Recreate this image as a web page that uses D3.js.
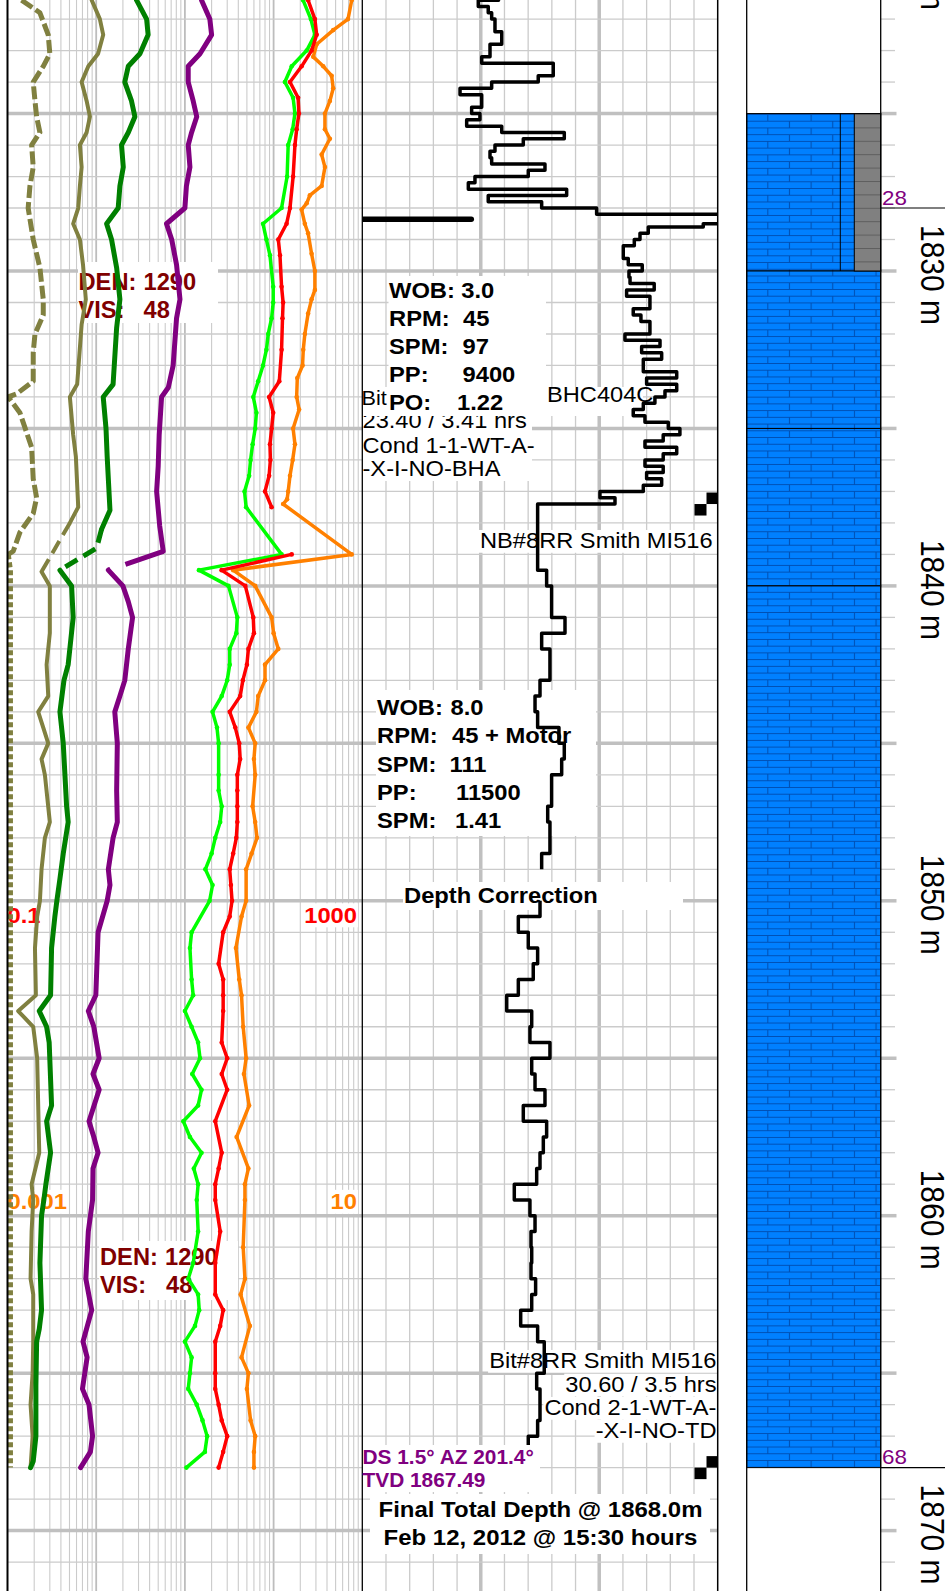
<!DOCTYPE html>
<html>
<head>
<meta charset="utf-8">
<title>Mud log 1821–1872 m</title>
<script src="https://cdn.jsdelivr.net/npm/d3@7"></script>
<style>
  html, body { margin: 0; padding: 0; background: #fff; }
  svg { display: block; }
</style>
</head>
<body>
<svg id="log" width="945" height="1591"></svg>
<script>
// ---------------- data ----------------
// depth labels on the depth track (m)
const depthLabels = [1820, 1830, 1840, 1850, 1860, 1870];

// gas curves: [depth (m), reading]
const oliveDashUpper = [[1821.4,0.144],[1821.8,0.232],[1822.5,0.288],[1823.1,0.30],[1823.5,0.253],[1824,0.195],[1824.6,0.204],[1825.1,0.213],[1825.6,0.232],[1826,0.187],[1826.7,0.195],[1827.3,0.179],[1828,0.171],[1829,0.195],[1829.9,0.232],[1830.9,0.253],[1831.4,0.253],[1832,0.204],[1832.6,0.195],[1833.5,0.195],[1833.9,0.127],[1834,0.102],[1834.5,0.138],[1835.6,0.187],[1836.6,0.195],[1837.2,0.213],[1837.7,0.195],[1838.3,0.138],[1838.9,0.116],[1839,0.102]];
const oliveDashLower = [[1839,0.102],[1839.5,0.108],[1868,0.108]];

const oliveUpper = [[1821.4,0.89],[1822,1.1],[1822.5,1.2],[1823.1,1.05],[1823.5,0.815],[1824,0.685],[1824.6,0.78],[1825.1,0.85],[1825.6,0.78],[1826,0.655],[1826.7,0.685],[1827.3,0.655],[1828,0.627],[1828.5,0.55],[1829,0.655],[1829.8,0.71],[1830.9,0.764],[1831.7,0.685],[1833.6,0.61],[1834,0.505],[1835.2,0.55],[1835.9,0.59],[1837.5,0.627],[1838,0.505]];
const oliveBridge = [[1838,0.505],[1839.55,0.242]];
const oliveLower = [[1839.55,0.242],[1840,0.30],[1841.5,0.30],[1842.5,0.276],[1843.5,0.288],[1844,0.222],[1844.5,0.253],[1845,0.288],[1845.5,0.242],[1846,0.264],[1847.5,0.30],[1848,0.264],[1849,0.242],[1850,0.232],[1850.5,0.216],[1851.5,0.204],[1853,0.209],[1853.5,0.132],[1854,0.195],[1855,0.216],[1858,0.228],[1859,0.187],[1859.5,0.195],[1860.5,0.187],[1862,0.182],[1862.5,0.195],[1864,0.195],[1865,0.192],[1866,0.182],[1867,0.192],[1868,0.182]];

const greenUpper = [[1821.4,2.85],[1822,3.7],[1822.5,3.85],[1823.1,3.11],[1823.5,2.3],[1824,2.1],[1824.6,2.5],[1825.1,2.73],[1825.6,2.3],[1826,1.93],[1826.7,2.02],[1827.3,1.85],[1828,1.77],[1828.5,1.31],[1829,1.49],[1829.9,1.70],[1830.9,1.85],[1831.8,1.70],[1833.6,1.55],[1834,1.2],[1835,1.29],[1835.9,1.33],[1837.6,1.43],[1838.2,1.15]];
const greenBridge = [[1838.2,1.15],[1838.8,1.01],[1839.5,0.39]];
const greenLower = [[1839.5,0.39],[1840,0.528],[1841,0.55],[1842.5,0.483],[1843,0.433],[1844,0.39],[1845,0.425],[1847,0.464],[1847.5,0.483],[1848.5,0.425],[1849.3,0.39],[1850,0.36],[1850.5,0.342],[1851.5,0.314],[1853,0.306],[1853.5,0.228],[1854,0.276],[1854.5,0.295],[1856.5,0.314],[1857,0.276],[1858,0.306],[1859,0.271],[1859.5,0.257],[1860,0.242],[1861.5,0.232],[1863,0.242],[1863.6,0.228],[1864,0.213],[1865.4,0.209],[1867,0.209],[1867.8,0.195],[1868,0.182]];

const purpleUpper = [[1821.4,15.4],[1822,19.1],[1822.5,20],[1823.1,14.8],[1823.5,10.9],[1824,10.9],[1824.6,12.4],[1825.1,13.6],[1825.6,11.9],[1826,10.9],[1826.7,11.4],[1827.3,10.4],[1828,10],[1828.5,6.2],[1829,7.1],[1829.8,8.05],[1830.9,8.8],[1831.5,8.05],[1833,7.37],[1833.7,6.5],[1834,5.46],[1835.2,5.13],[1836.2,5.0],[1837,4.8],[1838.1,5.2],[1838.9,5.7]];
const purpleBridge = [[1838.9,5.7],[1839.5,1.37]];
const purpleLower = [[1839.5,1.37],[1840,2.0],[1840.5,2.3],[1841,2.57],[1842,2.3],[1843,2.1],[1843.5,1.85],[1844,1.62],[1845,1.73],[1846.5,1.70],[1847.5,1.73],[1848,1.55],[1849,1.37],[1849.5,1.43],[1850,1.33],[1851,1.05],[1853,0.99],[1853.5,0.815],[1854,0.94],[1855,1.08],[1855.5,0.92],[1856,1.08],[1857,0.83],[1857.5,0.94],[1858,1.05],[1858.5,0.92],[1859.5,0.91],[1860.5,0.815],[1862,0.764],[1863,0.89],[1864,0.71],[1864.5,0.79],[1865.5,0.70],[1866,0.83],[1867,0.91],[1867.5,0.86],[1868,0.667]];

const limeGas = [[1821.4,215],[1822,263],[1822.5,292],[1823,236],[1823.5,160],[1824,134],[1824.5,166],[1825,174],[1825.5,164],[1826,146],[1827,142],[1828,123],[1828.5,76],[1829,83],[1829.5,91],[1830.5,99],[1831,99],[1831.5,95],[1832,87],[1832.5,83],[1833,76],[1833.5,67],[1834,59],[1834.5,64],[1835,62],[1835.5,58],[1836,55],[1836.5,53],[1837,47],[1837.5,49],[1839,123],[1839.5,14.4],[1840,31],[1841,39],[1841.5,38],[1842,32],[1842.5,32],[1843,30],[1843.5,26],[1844,20.5],[1844.5,23],[1845,24],[1846,24],[1846.5,24],[1847,26],[1847.5,25],[1848,22],[1848.5,20],[1849,17],[1849.5,20.5],[1850,19],[1851,11.9],[1851.5,11.4],[1852.5,11.9],[1853,12.4],[1853.5,10],[1854,11.9],[1854.5,14.1],[1855,14.8],[1855.5,12.1],[1856,15.4],[1856.5,14.1],[1857,9.6],[1857.5,11.4],[1858,15.4],[1858.5,12.6],[1859,14.1],[1859.5,13.6],[1860.5,14.1],[1861.5,12.4],[1862,10.9],[1862.5,14.1],[1863,14.5],[1863.5,13],[1864,10],[1864.5,11.9],[1865,11.4],[1865.5,10.9],[1866,13.6],[1866.5,15.8],[1867,17.8],[1867.5,16.8],[1868,10.4]];

const redGasUpper = [[1821.4,245],[1822,292],[1822.5,306],[1823,268],[1823.5,207],[1824,153],[1824.5,189],[1825,193],[1825.5,182],[1826,174],[1827,166],[1828,153],[1828.5,140],[1829,113],[1829.5,118],[1830.5,123],[1831,128],[1831.5,126],[1832.5,123],[1833.5,116],[1834,89],[1834.5,99],[1835,95],[1835.5,91],[1836,92],[1836.5,89],[1837,80],[1837.5,95]];
const redGasLower = [[1839,160],[1839.5,25.9],[1840,48],[1841,59],[1841.5,60],[1842,52],[1842.5,50],[1843,45],[1843.5,42],[1844,32],[1844.5,37],[1845,41],[1845.5,42],[1846,39],[1846.5,39],[1847,39],[1847.5,39],[1848,38],[1848.5,35],[1849,32],[1849.5,33],[1850,34],[1850.5,32],[1851,27],[1852,24],[1852.5,27],[1853,27],[1853.5,27],[1854.5,26],[1855,30],[1855.5,26],[1856,30],[1857,22],[1858,26],[1858.5,24],[1859,22],[1859.5,22],[1860.5,25],[1861.5,22],[1862.5,22],[1863,27],[1863.5,25],[1864,22],[1865,22],[1865.5,22],[1866,24],[1866.5,26],[1867,30],[1867.5,27],[1868,24]];

// orange curve, read on the 0.001 - 10 scale
const orangeRatio = [[1821.4,7.6],[1822,6.9],[1822.35,4.7],[1822.8,3.06],[1823.2,2.8],[1823.5,3.63],[1823.8,4.51],[1824.2,4.7],[1824.6,4.31],[1825,3.79],[1825.5,3.79],[1825.8,4.31],[1826.3,3.48],[1826.7,3.79],[1827.3,3.48],[1827.6,2.56],[1827.85,2.36],[1828.05,2.07],[1828.5,2.25],[1828.8,2.45],[1829.45,2.68],[1830,2.92],[1830.6,2.92],[1830.9,2.68],[1831.35,2.45],[1832,2.25],[1832.5,2.16],[1833,2.12],[1833.4,1.85],[1834,1.82],[1834.4,1.94],[1835,1.66],[1835.5,1.74],[1836,1.64],[1836.5,1.53],[1837,1.46],[1837.25,1.42],[1837.4,1.28],[1839,7.6],[1839.5,0.35],[1840,0.62],[1841,0.95],[1841.5,1.0],[1842,1.13],[1842.5,0.8],[1843,0.8],[1843.5,0.67],[1844,0.64],[1844.5,0.52],[1845,0.62],[1845.5,0.60],[1846,0.62],[1847,0.58],[1847.5,0.62],[1848,0.65],[1848.5,0.565],[1849,0.49],[1850,0.49],[1850.5,0.435],[1851.5,0.376],[1852.5,0.41],[1853,0.435],[1854,0.454],[1855,0.49],[1855.5,0.463],[1856.5,0.53],[1857.5,0.383],[1858.5,0.52],[1859,0.475],[1859.5,0.475],[1861,0.454],[1862,0.475],[1862.5,0.425],[1863.5,0.54],[1864.5,0.435],[1865,0.52],[1865.5,0.5],[1866.5,0.55],[1867,0.62],[1867.5,0.60],[1868,0.60]];

// drill rate, step values: [top of interval (m), rate]
const ropUpper = [[1821.2,11.5],[1821.4,9.79],[1821.6,10.63],[1821.8,10.92],[1822.0,11.2],[1822.4,11.77],[1822.8,10.78],[1823.2,10.08],[1823.4,16.12],[1823.8,14.85],[1824.0,10.92],[1824.2,8.25],[1824.4,10.08],[1824.8,9.23],[1825.0,9.93],[1825.2,8.81],[1825.4,11.77],[1825.6,17.05],[1825.8,13.59],[1826.0,11.2],[1826.2,10.78],[1826.4,10.92],[1826.6,15.42],[1826.8,14.01],[1827.0,9.51],[1827.2,8.95],[1827.4,17.25],[1827.6,10.63],[1827.8,15.14],[1828.0,19.78],[1828.2,35],[1828.5,28.78],[1828.6,24.14],[1828.8,23.44],[1829.0,22.96],[1829.2,22.03],[1829.6,22.45],[1829.8,23.63],[1830.0,22.51],[1830.2,22.6],[1830.4,24.64],[1830.6,22.31],[1830.8,24.28],[1831.2,22.87],[1831.4,23.52],[1831.6,24.28],[1832.0,22.17],[1832.2,25.13],[1832.4,23.58],[1832.6,25.27],[1832.8,23.72],[1833.2,26.54],[1833.4,24.0],[1833.6,26.54],[1833.8,25.55],[1834.0,24.7],[1834.2,23.72],[1834.4,22.87],[1834.6,23.86],[1834.8,25.83],[1835.0,26.81],[1835.2,25.4],[1835.4,23.86],[1835.6,26.54],[1835.8,25.4],[1836.0,23.86],[1836.2,25.4],[1836.4,24.0],[1836.6,25.27],[1836.8,23.72],[1837.0,20.06],[1837.2,21.33],[1837.4,14.8],[1839.5,15.56],[1840.0,15.98],[1841.0,17.11],[1841.5,15.14],[1842.0,15.84],[1843.0,15.0],[1843.5,14.58],[1844.0,14.8],[1844.5,16.6],[1845.0,17.05],[1845.5,16.83],[1846.0,15.98],[1847.0,15.65],[1847.5,15.84],[1848.5,15.14],[1849.0,15.14]];
const ropLower = [[1850.0,15.0],[1850.5,13.17],[1851.0,14.01],[1851.5,14.8],[1852.0,14.43],[1852.5,13.17],[1853.0,12.19],[1853.5,14.3],[1854.0,14.15],[1854.5,15.84],[1855.0,14.3],[1855.5,14.58],[1856.0,15.42],[1856.5,13.59],[1857.0,15.56],[1857.5,15.28],[1858.0,15.0],[1858.5,14.72],[1859.0,12.83],[1859.5,14.15],[1860.0,14.58],[1860.5,14.24],[1861.0,14.3],[1861.5,14.24],[1862.0,14.63],[1862.5,14.3],[1863.0,13.37],[1863.5,14.8],[1864.0,15.36],[1865.0,14.72],[1865.5,15.0],[1866.5,14.8],[1867.0,14.01],[1867.5,14.01]];

// short survey bar on the drill-rate track: depth, rate
const surveyBar = [1828.36, 9.2];

// bit changes (m)
const bitChanges = [1837.4, 1868];

// lithology intervals (m)
const lithTops = [1825, 1830, 1835, 1840];
const lithBases = [1830, 1835, 1840, 1868];
const greyBand = [1825, 1830];

// depth flags on the depth track
const flagDepths = [1828, 1868];
const flagTexts = ['28', '68'];

// ---------------- scales ----------------
const W = 945, H = 1591;
const svg = d3.select('#log');
const FONT = '"Liberation Sans", Arial, Helvetica, sans-serif';

const y = d3.scaleLinear().domain([1830, 1870]).range([271, 1530.6]);
const gasX = d3.scaleLog().domain([0.1, 1000]).range([7.5, 362.3]);
const ratioX = d3.scaleLog().domain([0.001, 10]).range([7.5, 362.3]);
const ropX = d3.scaleLinear().domain([0, 30]).range([362.3, 717.7]);
const LITH_L = 746.7, LITH_R = 880.7;

// ---------------- patterns / clips ----------------
const defs = svg.append('defs');
const brick = defs.append('pattern').attr('id', 'brick').attr('patternUnits', 'userSpaceOnUse')
  .attr('x', 767.3).attr('y', 114).attr('width', 43.3).attr('height', 13.46);
brick.append('rect').attr('width', 43.3).attr('height', 13.46).attr('fill', '#0080ff');
brick.append('path')
  .attr('d', 'M0,0.5H43.3M0,7.23H43.3M0.5,0V6.73M22.15,6.73V13.46')
  .attr('stroke', '#0050b4').attr('stroke-width', 1.1).attr('fill', 'none');
const greyPat = defs.append('pattern').attr('id', 'greyPat').attr('patternUnits', 'userSpaceOnUse')
  .attr('x', 0).attr('y', 114).attr('width', 20).attr('height', 13.4);
greyPat.append('rect').attr('width', 20).attr('height', 13.4).attr('fill', '#808080');
greyPat.append('path').attr('d', 'M0,0.5H20').attr('stroke', '#5e5e5e').attr('stroke-width', 1);
defs.append('clipPath').attr('id', 'ropClip').append('rect')
  .attr('x', 362.3).attr('y', 0).attr('width', 717.7 - 362.3).attr('height', H);
defs.append('clipPath').attr('id', 'gasClip').append('rect')
  .attr('x', 7.5).attr('y', 0).attr('width', 362.3 - 7.5).attr('height', H);

// ---------------- grid ----------------
const grid = svg.append('g');
const gasTicks = [];
[-1, 0, 1, 2].forEach(e => { for (let m = 1; m <= 9; m++) gasTicks.push(+(m * Math.pow(10, e)).toPrecision(3)); });
grid.selectAll('line.gv').data(gasTicks.filter(v => v > 0.1)).join('line')
  .attr('x1', d => gasX(d)).attr('x2', d => gasX(d)).attr('y1', 0).attr('y2', H)
  .attr('stroke', d => [1, 10, 100].includes(d) ? '#bdbdbd' : '#cbcbcb')
  .attr('stroke-width', d => [1, 10, 100].includes(d) ? 1.8 : 1.1);
grid.selectAll('line.rv').data(d3.range(2, 30, 2)).join('line')
  .attr('x1', d => ropX(d)).attr('x2', d => ropX(d)).attr('y1', 0).attr('y2', H)
  .attr('stroke', d => d % 10 === 0 ? '#c0c0c0' : '#cbcbcb')
  .attr('stroke-width', d => d % 10 === 0 ? 3.5 : 1.3);
const meters = d3.range(1821, 1873);
grid.selectAll('line.h').data(meters).join('line')
  .attr('x1', 7.5).attr('x2', 717.7).attr('y1', d => y(d)).attr('y2', d => y(d))
  .attr('stroke', d => d % 5 === 0 ? '#c0c0c0' : '#cbcbcb')
  .attr('stroke-width', d => d % 5 === 0 ? 3.5 : 1.3);
// depth track ticks
grid.selectAll('line.dt').data(meters).join('line')
  .attr('x1', LITH_R).attr('x2', d => d % 5 === 0 ? 896.5 : 895)
  .attr('y1', d => y(d)).attr('y2', d => y(d))
  .attr('stroke', d => d % 5 === 0 ? '#c0c0c0' : '#cbcbcb')
  .attr('stroke-width', d => d % 5 === 0 ? 3.5 : 1.3);

// ---------------- lithology ----------------
const lith = svg.append('g');
lith.selectAll('rect.li').data(lithTops).join('rect')
  .attr('x', LITH_L).attr('width', LITH_R - LITH_L)
  .attr('y', d => y(d)).attr('height', (d, i) => y(lithBases[i]) - y(d))
  .attr('fill', 'url(#brick)').attr('stroke', '#000').attr('stroke-width', 1);
lith.append('rect').attr('x', 854.3).attr('width', LITH_R - 854.3)
  .attr('y', y(greyBand[0])).attr('height', y(greyBand[1]) - y(greyBand[0]))
  .attr('fill', 'url(#greyPat)').attr('stroke', '#000').attr('stroke-width', 1);
lith.append('line').attr('x1', 840.3).attr('x2', 840.3)
  .attr('y1', y(greyBand[0])).attr('y2', y(greyBand[1])).attr('stroke', '#000').attr('stroke-width', 1);

// depth labels
svg.append('g').selectAll('text').data(depthLabels).join('text')
  .attr('transform', d => `translate(921,${y(d) + 4}) rotate(90) scale(1,1.1)`)
  .attr('text-anchor', 'middle').attr('font-family', FONT).attr('font-size', 30)
  .attr('fill', '#000').text(d => `${d} m`);
// depth flags
const flags = svg.append('g');
flags.selectAll('line').data(flagDepths).join('line')
  .attr('x1', LITH_R).attr('x2', W).attr('y1', d => y(d)).attr('y2', d => y(d))
  .attr('stroke', '#000').attr('stroke-width', 1.2);
flags.selectAll('text').data(flagDepths).join('text')
  .attr('transform', d => `translate(882,${y(d) - 3.5}) scale(1.12,1)`)
  .attr('font-family', FONT).attr('font-size', 20).attr('fill', '#800080')
  .text((d, i) => flagTexts[i]);

// ---------------- notes ----------------
const notes = svg.append('g');
function box(parent, x0, y0, x1, y1) {
  parent.append('rect').attr('x', x0).attr('y', y0).attr('width', x1 - x0).attr('height', y1 - y0).attr('fill', '#fff');
}
function say(parent, x, yb, parts, o = {}) {
  const sx = o.sx || 1.1;
  const g = parent.append('g').attr('transform', `translate(${x},${yb}) scale(${sx},1)`);
  const t = g.append('text').attr('font-family', FONT).attr('font-size', o.size || 21.5)
    .attr('font-weight', o.bold ? 'bold' : 'normal').attr('fill', o.fill || '#000')
    .attr('text-anchor', o.anchor || 'start');
  parts.forEach(([s, dx]) => t.append('tspan').attr('x', (dx || 0) / sx).attr('y', 0).text(s));
  if (o.bg) {
    const b = t.node().getBBox();
    g.insert('rect', 'text').attr('x', b.x - 1).attr('y', b.y + 1).attr('width', b.width + 2)
      .attr('height', b.height - 1).attr('fill', '#fff');
  }
  return g;
}

// mud properties
const MUD = { size: 23, sx: 1.03, bold: true, fill: '#800000' };
box(notes, 78, 262, 218, 323);
say(notes, 78.5, 290, [['DEN:', 0], ['1290', 65]], MUD);
say(notes, 78.5, 318, [['VIS:', 0], ['48', 65]], MUD);
box(notes, 99, 1241, 238, 1300);
say(notes, 100, 1265, [['DEN:', 0], ['1290', 65]], MUD);
say(notes, 100, 1293.3, [['VIS:', 0], ['48', 66]], MUD);

// scale labels
const SCALE = { size: 22, sx: 1.08, bold: true, bg: true };
say(notes, 7.5, 922.5, [['0.1', 0]], { ...SCALE, fill: '#ff0000' });
say(notes, 357, 922.5, [['1000', 0]], { ...SCALE, fill: '#ff0000', anchor: 'end' });
say(notes, 7.5, 1209, [['0.001', 0]], { ...SCALE, fill: '#ff8000' });
say(notes, 357, 1209, [['10', 0]], { ...SCALE, fill: '#ff8000', anchor: 'end' });

// first bit record
box(notes, 362.5, 416, 532, 481);
say(notes, 362.5, 428, [['23.40 / 3.41 hrs', 0]]);
say(notes, 362.5, 453, [['Cond 1-1-WT-A-', 0]]);
say(notes, 362.5, 476, [['-X-I-NO-BHA', 0]]);
box(notes, 362.5, 387, 643, 416);
say(notes, 361.5, 405, [['Bit', 0]], { size: 20, sx: 1.08 });
say(notes, 547, 402, [['BHC404C', 0]]);

// drilling parameters, first run
const PARAM = { bold: true, size: 22, sx: 1.08 };
box(notes, 388.5, 276, 546, 415);
const run1 = [['WOB:', '3.0', 72.3], ['RPM:', '45', 74], ['SPM:', '97', 73.5], ['PP:', '9400', 73.5], ['PO:', '1.22', 68]];
run1.forEach((r, i) => say(notes, 389, 297.5 + i * 28, [[r[0], 0], [r[1], r[2]]], PARAM));

say(notes, 480, 548, [['NB#8RR Smith MI516', 0]], { bg: true });

// drilling parameters, second run
box(notes, 376, 690, 596, 836);
const run2 = [['WOB:', '8.0', 73.5, 715], ['RPM:', '45 + Motor', 75, 742.7], ['SPM:', '111', 72.5, 771.7], ['PP:', '11500', 79, 800], ['SPM:', '1.41', 78, 828]];
run2.forEach(r => say(notes, 377, r[3], [[r[0], 0], [r[1], r[2]]], PARAM));

box(notes, 403, 882, 683, 910);
say(notes, 404, 903.3, [['Depth Correction', 0]], PARAM);

// second bit record
['Bit#8RR Smith MI516', '30.60 / 3.5 hrs', 'Cond 2-1-WT-A-', '-X-I-NO-TD'].forEach((s, i) =>
  say(notes, 716.5, [1368, 1391.7, 1415, 1438][i], [[s, 0]], { anchor: 'end', bg: true }));

// ---------------- curves ----------------
const curves = svg.append('g');
function trace(parent, pts, scale, color, w, dash) {
  const line = d3.line().x(d => scale(d[1])).y(d => y(d[0]));
  parent.append('path').attr('d', line(pts)).attr('fill', 'none').attr('stroke', color)
    .attr('stroke-width', w).attr('stroke-linejoin', 'round')
    .attr('stroke-linecap', dash ? 'butt' : 'round')
    .attr('stroke-dasharray', dash || null);
}
function dots(parent, pts, scale, color) {
  parent.append('g').selectAll('circle').data(pts).join('circle')
    .attr('cx', d => scale(d[1])).attr('cy', d => y(d[0])).attr('r', 2.3).attr('fill', color);
}
const gasG = curves.append('g').attr('clip-path', 'url(#gasClip)');
const OLIVE = '#808040';
trace(gasG, oliveDashUpper, gasX, OLIVE, 5, '13,4');
trace(gasG, oliveDashLower, gasX, OLIVE, 5, '5,3');
trace(gasG, oliveUpper, gasX, OLIVE, 4);
trace(gasG, oliveBridge, gasX, OLIVE, 4, '14,7');
trace(gasG, oliveLower, gasX, OLIVE, 4);
trace(gasG, greenUpper, gasX, '#008000', 5);
trace(gasG, greenBridge, gasX, '#008000', 5, '14,7');
trace(gasG, greenLower, gasX, '#008000', 5);
trace(gasG, purpleUpper, gasX, '#800080', 5);
trace(gasG, purpleBridge, gasX, '#800080', 5, '40,16');
trace(gasG, purpleLower, gasX, '#800080', 5);
trace(gasG, limeGas, gasX, '#00ff00', 3.5); dots(gasG, limeGas, gasX, '#00ff00');
trace(gasG, orangeRatio, ratioX, '#ff8000', 3.5); dots(gasG, orangeRatio, ratioX, '#ff8000');
trace(gasG, redGasUpper, gasX, '#ff0000', 3.5); dots(gasG, redGasUpper, gasX, '#ff0000');
trace(gasG, redGasLower, gasX, '#ff0000', 3.5); dots(gasG, redGasLower, gasX, '#ff0000');

// drill rate
const ropG = curves.append('g').attr('clip-path', 'url(#ropClip)');
const ropLine = d3.line().x(d => ropX(d[1])).y(d => y(d[0])).curve(d3.curveStepBefore);
[ropUpper, ropLower].forEach(seg => ropG.append('path').attr('d', ropLine(seg))
  .attr('fill', 'none').attr('stroke', '#000').attr('stroke-width', 3.5).attr('stroke-linejoin', 'round'));
ropG.append('line').attr('x1', ropX(0)).attr('x2', ropX(surveyBar[1]))
  .attr('y1', y(surveyBar[0])).attr('y2', y(surveyBar[0]))
  .attr('stroke', '#000').attr('stroke-width', 5.5).attr('stroke-linecap', 'round');
// bit change markers
const bits = curves.append('g');
bits.selectAll('rect.a').data(bitChanges).join('rect')
  .attr('x', 706.5).attr('y', d => y(d) - 11.5).attr('width', 11.2).attr('height', 11.5).attr('fill', '#000');
bits.selectAll('rect.b').data(bitChanges).join('rect')
  .attr('x', 694.5).attr('y', d => y(d)).attr('width', 12).attr('height', 11.5).attr('fill', '#000');

// ---------------- frame ----------------
const frame = svg.append('g');
[[7.5, 2], [362.3, 1.3], [717.7, 1.5], [LITH_L, 1.3], [LITH_R, 1.3]].forEach(([x, w]) =>
  frame.append('line').attr('x1', x).attr('x2', x).attr('y1', 0).attr('y2', H)
    .attr('stroke', '#000').attr('stroke-width', w));

// ---------------- survey and TD notes ----------------
const tail = svg.append('g');
box(tail, 363, 1445, 540, 1492);
say(tail, 362.5, 1463.5, [['DS 1.5° AZ 201.4°', 0]], { size: 19.5, sx: 1.07, bold: true, fill: '#800080' });
say(tail, 362.5, 1486.7, [['TVD 1867.49', 0]], { size: 19.5, sx: 1.07, bold: true, fill: '#800080' });
box(tail, 370, 1494, 710, 1554);
say(tail, 540.5, 1516.7, [['Final Total Depth @ 1868.0m', 0]], { bold: true, size: 22, sx: 1.09, anchor: 'middle' });
say(tail, 540.5, 1545, [['Feb 12, 2012 @ 15:30 hours', 0]], { bold: true, size: 22, sx: 1.09, anchor: 'middle' });
</script>
</body>
</html>
